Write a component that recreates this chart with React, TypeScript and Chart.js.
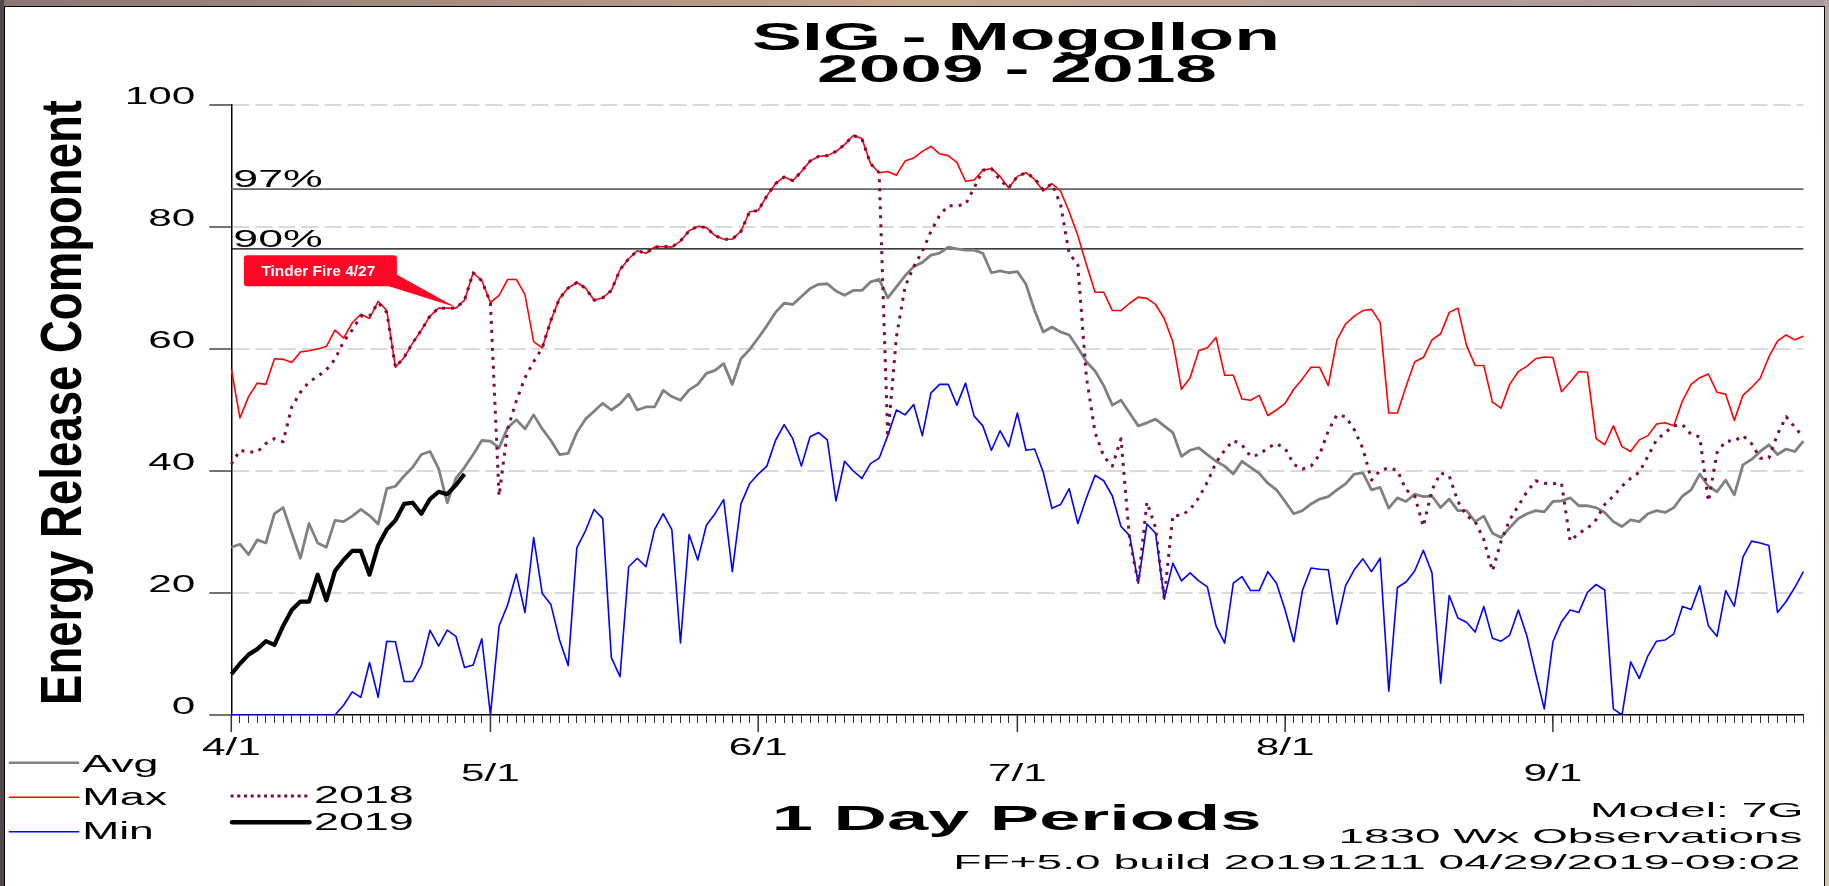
import React, { useEffect, useRef } from 'react';
import { Chart, registerables } from 'chart.js';

Chart.register(...registerables);

// ---------- data ----------
const monthNumbers = [4, 5, 6, 7, 8, 9];
const monthLengths = [30, 31, 30, 31, 31, 30];
const categories: string[] = [];
monthNumbers.forEach((m, i) => {
  for (let d = 1; d <= monthLengths[i]; d++) categories.push(`${m}/${d}`);
});
const monthTickLabels = ['4/1', '5/1', '6/1', '7/1', '8/1', '9/1'];
const yTickValues = [0, 20, 40, 60, 80, 100];

const maxValues = [
  56.7, 48.7, 52.2, 54.4, 54.2, 58.4, 58.3, 57.8, 59.5, 59.7,
  60.0, 60.4, 63.1, 61.8, 64.3, 65.7, 65.0, 67.8, 66.3, 57.0,
  58.6, 61.0, 63.1, 65.4, 66.7, 66.7, 66.7, 68.0, 72.5, 71.2,
  67.6, 68.8, 71.4, 71.4, 68.9, 61.2, 60.2, 64.7, 68.3, 70.0,
  70.9, 70.0, 68.0, 68.4, 69.6, 73.0, 74.8, 76.1, 75.7, 76.7,
  76.8, 76.7, 77.7, 79.4, 80.1, 79.9, 78.6, 78.0, 78.0, 79.3,
  82.5, 82.7, 85.1, 87.1, 88.2, 87.6, 89.1, 90.8, 91.6, 91.7,
  92.4, 93.5, 95.0, 94.5, 90.4, 88.9, 89.1, 88.5, 90.8, 91.3,
  92.4, 93.2, 92.0, 91.7, 90.6, 87.5, 87.7, 89.3, 89.6, 88.3,
  86.4, 88.3, 88.9, 87.8, 85.9, 87.1, 85.9, 82.5, 78.6, 73.8,
  69.3, 69.3, 66.3, 66.3, 67.5, 68.5, 68.3, 67.3, 65.0, 61.2,
  53.4, 55.3, 59.7, 60.2, 61.9, 55.7, 55.7, 51.8, 51.6, 52.4,
  49.1, 50.0, 51.1, 53.4, 55.1, 57.0, 57.0, 54.0, 61.5, 64.1,
  65.4, 66.3, 66.5, 64.4, 49.5, 49.5, 53.9, 57.9, 58.6, 61.5,
  62.5, 66.0, 66.7, 60.6, 57.3, 57.3, 51.3, 50.3, 54.2, 56.3,
  57.2, 58.4, 58.7, 58.6, 53.0, 54.6, 56.3, 56.2, 45.3, 44.3,
  47.4, 44.0, 43.2, 45.1, 45.8, 47.7, 47.9, 47.4, 51.5, 54.2,
  55.3, 55.9, 52.9, 52.6, 48.3, 52.4, 53.7, 55.2, 58.7, 61.3,
  62.3, 61.5, 62.1,
];

const avgValues = [
  27.5, 28.0, 26.3, 28.7, 28.2, 33.0, 34.0, 29.8, 25.7, 31.4,
  28.2, 27.5, 31.9, 31.7, 32.6, 33.7, 32.7, 31.3, 37.1, 37.5,
  39.2, 40.6, 42.7, 43.2, 40.4, 34.8, 38.8, 40.6, 42.7, 45.0,
  44.9, 43.8, 47.1, 48.4, 46.9, 49.2, 46.9, 45.0, 42.7, 42.9,
  46.3, 48.5, 49.8, 51.1, 50.0, 51.0, 52.6, 50.0, 50.5, 50.5,
  53.2, 52.2, 51.6, 53.3, 54.2, 56.0, 56.5, 57.6, 54.2, 58.4,
  59.9, 61.8, 63.8, 66.0, 67.5, 67.3, 68.6, 69.9, 70.6, 70.7,
  69.5, 68.8, 69.6, 69.6, 71.0, 71.4, 68.4, 70.2, 72.0, 73.5,
  74.2, 75.4, 75.7, 76.7, 76.4, 76.2, 76.2, 75.7, 72.5, 72.8,
  72.5, 72.7, 70.6, 66.3, 62.8, 63.6, 62.8, 62.3, 60.2, 57.9,
  56.4, 54.0, 50.8, 51.6, 49.5, 47.4, 47.9, 48.5, 47.4, 46.3,
  42.4, 43.4, 43.8, 42.7, 41.6, 40.8, 39.5, 41.6, 40.6, 39.6,
  38.0, 36.9, 35.0, 33.0, 33.5, 34.6, 35.4, 35.8, 36.9, 37.9,
  39.5, 39.7, 36.9, 37.3, 33.9, 35.6, 35.0, 36.2, 35.8, 35.9,
  34.0, 35.4, 33.5, 33.5, 31.7, 32.6, 29.8, 29.1, 30.7, 32.2,
  33.0, 33.5, 33.3, 35.0, 35.1, 35.6, 34.3, 34.3, 34.0, 33.2,
  31.7, 30.9, 32.0, 31.7, 33.0, 33.5, 33.2, 34.0, 35.9, 36.9,
  39.5, 37.5, 36.6, 38.5, 36.1, 41.0, 41.9, 43.2, 44.3, 42.7,
  43.6, 43.2, 44.9,
];

const minValues = [
  0, 0, 0, 0, 0, 0, 0, 0, 0, 0,
  0, 0, 0, 1.6, 3.8, 2.9, 8.6, 2.9, 12.1, 12.0,
  5.5, 5.5, 8.1, 13.9, 11.3, 13.9, 12.9, 7.8, 8.2, 12.5,
  0, 14.6, 18.1, 23.1, 16.8, 29.1, 19.9, 18.1, 12.3, 8.1,
  27.4, 30.2, 33.7, 32.2, 9.4, 6.3, 24.3, 25.7, 24.3, 30.4,
  33.0, 30.4, 11.8, 29.6, 25.4, 31.1, 33.0, 35.3, 23.5, 34.6,
  37.9, 39.5, 40.8, 45.0, 47.6, 45.3, 40.8, 45.6, 46.3, 45.1,
  35.1, 41.6, 40.0, 38.8, 41.2, 42.1, 45.8, 50.0, 49.2, 50.9,
  45.8, 52.8, 54.2, 54.2, 50.8, 54.4, 49.0, 47.4, 43.4, 46.6,
  44.0, 49.5, 43.4, 43.6, 39.8, 33.9, 34.5, 37.1, 31.4, 35.6,
  39.3, 38.4, 35.9, 30.9, 29.4, 21.6, 31.3, 29.8, 19.0, 24.9,
  22.0, 23.3, 22.0, 21.0, 14.6, 11.8, 21.6, 22.7, 20.4, 20.4,
  23.5, 21.6, 17.2, 12.0, 20.4, 24.1, 23.9, 23.8, 14.9, 21.2,
  23.8, 25.6, 23.5, 25.7, 3.9, 20.9, 21.8, 23.6, 27.0, 23.3,
  5.2, 19.6, 15.9, 15.2, 13.6, 17.8, 12.6, 12.1, 13.1, 17.2,
  12.9, 6.8, 1.0, 12.0, 15.3, 17.2, 16.8, 20.1, 21.4, 20.5,
  1.0, 0, 8.7, 6.0, 9.7, 12.1, 12.3, 13.3, 17.8, 17.3,
  21.2, 14.6, 12.9, 20.4, 17.8, 25.9, 28.5, 28.2, 27.8, 16.8,
  18.6, 20.9, 23.5,
];

const values2018 = [
  41.1, 43.4, 43.1, 43.1, 44.5, 45.3, 44.8, 50.5, 52.9, 54.6,
  55.5, 56.6, 58.3, 61.2, 63.1, 65.4, 65.4, 67.6, 66.0, 57.0,
  58.6, 61.0, 63.1, 65.4, 66.7, 66.7, 66.7, 68.0, 72.5, 71.2,
  67.6, 35.9, 46.9, 51.5, 55.3, 57.9, 60.2, 64.7, 68.3, 70.0,
  70.9, 70.0, 68.0, 68.4, 69.6, 73.0, 74.8, 76.1, 75.7, 76.7,
  76.8, 76.7, 77.7, 79.4, 80.1, 79.9, 78.6, 78.0, 78.0, 79.3,
  82.5, 82.7, 85.1, 87.1, 88.2, 87.6, 89.1, 90.8, 91.6, 91.7,
  92.4, 93.5, 95.0, 94.5, 90.4, 88.9, 45.5, 62.0, 70.2, 73.5,
  76.0, 79.3, 81.9, 83.5, 83.5, 83.7, 86.4, 89.3, 89.6, 87.7,
  86.4, 88.3, 88.9, 88.0, 86.1, 87.1, 83.7, 75.7, 73.8, 55.3,
  46.3, 42.4, 40.8, 45.3, 28.7, 21.7, 34.9, 30.7, 19.1, 32.7,
  32.7, 33.7, 35.6, 38.2, 41.4, 43.4, 45.0, 44.3, 42.4, 42.7,
  43.8, 44.5, 43.7, 41.1, 40.3, 40.8, 42.7, 46.6, 49.2, 48.9,
  46.8, 43.7, 38.5, 40.1, 40.5, 40.1, 36.9, 35.9, 30.9, 36.9,
  39.7, 39.2, 35.0, 32.7, 31.7, 28.8, 23.6, 28.5, 32.0, 34.3,
  36.6, 38.4, 38.0, 37.9, 38.0, 28.5, 29.8, 30.6, 32.0, 34.5,
  35.9, 37.5, 38.8, 39.8, 42.4, 45.1, 46.3, 47.4, 47.6, 46.0,
  45.6, 35.0, 43.0, 44.9, 44.9, 45.8, 44.5, 42.1, 42.1, 46.0,
  48.9, 47.2, 45.5,
];

const values2019 = [
  6.7, 8.4, 9.9, 10.8, 12.1, 11.5, 14.6, 17.2, 18.6, 18.6,
  23.0, 18.8, 23.6, 25.4, 26.9, 26.9, 23.0, 27.8, 30.4, 31.9,
  34.6, 34.8, 33.0, 35.4, 36.6, 36.2, 37.7, 39.5,
];

const pct97 = 86.2;
const pct90 = 76.4;
const fireDate = '4/27';
const fireLabel = 'Tinder Fire 4/27';

// ---------- drawing helpers ----------
const FONT = '"Liberation Sans", Arial, Helvetica, sans-serif';

function stretchText(
  ctx: CanvasRenderingContext2D,
  text: string,
  x: number,
  y: number,
  size: number,
  weight: string,
  sx: number,
  align: CanvasTextAlign,
  color: string
) {
  ctx.save();
  ctx.font = `${weight} ${size}px ${FONT}`;
  ctx.fillStyle = color;
  ctx.textBaseline = 'alphabetic';
  ctx.textAlign = align;
  ctx.translate(x, y);
  ctx.scale(sx, 1);
  ctx.fillText(text, 0, 0);
  ctx.restore();
}

const overlayPlugin = {
  id: 'ffOverlay',
  afterDatasetsDraw(chart: any) {
    const { ctx, chartArea, scales } = chart;
    const xs = scales.x;
    const ys = scales.y;

    // long month ticks
    ctx.save();
    ctx.strokeStyle = '#333';
    ctx.lineWidth = 1.5;
    monthTickLabels.forEach((lab) => {
      const px = xs.getPixelForValue(categories.indexOf(lab));
      ctx.beginPath();
      ctx.moveTo(px, chartArea.bottom);
      ctx.lineTo(px, chartArea.bottom + 17);
      ctx.stroke();
    });
    ctx.restore();

    // staggered month labels
    monthTickLabels.forEach((lab, i) => {
      const px = xs.getPixelForValue(categories.indexOf(lab));
      const py = chartArea.bottom + (i % 2 === 0 ? 39.5 : 66);
      stretchText(ctx, lab, px, py, 23.5, 'normal', 1.8, 'center', '#000');
    });

    // y tick labels
    yTickValues.forEach((v) => {
      const py = ys.getPixelForValue(v);
      stretchText(ctx, String(v), chartArea.left - 36, py - 1, 23.5, 'normal', 1.8, 'right', '#000');
    });

    // percentile labels
    stretchText(ctx, '97%', chartArea.left + 2, ys.getPixelForValue(pct97) - 1.8, 23.5, 'normal', 1.9, 'left', '#000');
    stretchText(ctx, '90%', chartArea.left + 2, ys.getPixelForValue(pct90) - 1.8, 23.5, 'normal', 1.9, 'left', '#000');

    // fire annotation anchored to the 2018 value on the fire date
    const fi = categories.indexOf(fireDate);
    const tx = xs.getPixelForValue(fi);
    const ty = ys.getPixelForValue(values2018[fi]) - 1;
    const bl = tx - 212;
    const bt = ty - 52;
    const bw = 153;
    const bh = 31;
    const red = '#fe0626';
    ctx.save();
    ctx.fillStyle = red;
    ctx.beginPath();
    ctx.moveTo(bl + bw - 8, bt + 15);
    ctx.lineTo(tx, ty);
    ctx.lineTo(bl + bw - 8, bt + bh);
    ctx.closePath();
    ctx.fill();
    ctx.beginPath();
    const r = 3;
    ctx.moveTo(bl + r, bt);
    ctx.lineTo(bl + bw - r, bt);
    ctx.quadraticCurveTo(bl + bw, bt, bl + bw, bt + r);
    ctx.lineTo(bl + bw, bt + bh - r);
    ctx.quadraticCurveTo(bl + bw, bt + bh, bl + bw - r, bt + bh);
    ctx.lineTo(bl + r, bt + bh);
    ctx.quadraticCurveTo(bl, bt + bh, bl, bt + bh - r);
    ctx.lineTo(bl, bt + r);
    ctx.quadraticCurveTo(bl, bt, bl + r, bt);
    ctx.fill();
    ctx.restore();
    stretchText(ctx, fireLabel, bl + 17.5, bt + 21, 15, 'bold', 1.03, 'left', '#fff');
  },
};

const TARGET = { left: 231.3, top: 105, right: 1803.4, bottom: 715 };

export default function App() {
  const canvasRef = useRef<HTMLCanvasElement | null>(null);

  useEffect(() => {
    const canvas = canvasRef.current;
    if (!canvas) return;
    const first = categories[0];
    const last = categories[categories.length - 1];
    const chart = new Chart(canvas, {
      type: 'line',
      data: {
        labels: categories,
        datasets: [
          {
            label: '97%',
            data: [{ x: first, y: pct97 }, { x: last, y: pct97 }] as any,
            borderColor: '#686868',
            borderWidth: 1.8,
            order: 10,
          },
          {
            label: '90%',
            data: [{ x: first, y: pct90 }, { x: last, y: pct90 }] as any,
            borderColor: '#000000',
            borderWidth: 1.2,
            order: 9,
          },
          { label: 'Min', data: minValues, borderColor: '#0000ff', borderWidth: 1.6, order: 8 },
          { label: 'Max', data: maxValues, borderColor: '#ff0000', borderWidth: 1.6, order: 7 },
          { label: 'Avg', data: avgValues, borderColor: '#808080', borderWidth: 2.8, order: 6 },
          {
            label: '2018',
            data: values2018,
            borderColor: '#7a0a48',
            borderWidth: 3,
            borderDash: [3, 6],
            order: 5,
          },
          { label: '2019', data: values2019, borderColor: '#000000', borderWidth: 4.2, order: 4 },
        ],
      },
      options: {
        responsive: false,
        animation: false,
        devicePixelRatio: 1,
        layout: { padding: { left: 209, top: 105, right: 26, bottom: 163 } },
        elements: { point: { radius: 0 }, line: { tension: 0, borderJoinStyle: 'round' } },
        plugins: {
          legend: { display: false },
          tooltip: { enabled: false },
          title: { display: false },
        },
        scales: {
          x: {
            type: 'category',
            offset: false,
            ticks: { display: false, autoSkip: false },
            grid: {
              drawOnChartArea: false,
              drawTicks: true,
              tickLength: 8,
              tickColor: '#333',
              tickWidth: 1,
            },
            border: { display: true, color: '#000', width: 1.6 },
          },
          y: {
            min: 0,
            max: 100,
            ticks: { display: false, stepSize: 20 },
            grid: {
              color: (c: any) => (c.tick && c.tick.value === 0 ? 'rgba(0,0,0,0)' : '#d9d9d9'),
              lineWidth: 2,
              drawTicks: true,
              tickColor: '#444',
              tickLength: 22,
              tickWidth: 1.5,
            },
            border: { display: true, color: '#000', width: 1.5, dash: [17, 6] },
          },
        },
      },
      plugins: [overlayPlugin],
    });

    // fine-tune padding so the plot area lands where the reference has it
    const ca = chart.chartArea;
    const pad: any = (chart.options.layout as any).padding;
    (chart.options.layout as any).padding = {
      left: pad.left + (TARGET.left - ca.left),
      top: pad.top + (TARGET.top - ca.top),
      right: pad.right + (ca.right - TARGET.right),
      bottom: pad.bottom + (ca.bottom - TARGET.bottom),
    };
    chart.update();

    return () => chart.destroy();
  }, []);

  const txt = { fontFamily: FONT, fill: '#000' } as const;

  return (
    <div
      style={{
        position: 'fixed',
        left: 0,
        top: 0,
        width: 1829,
        height: 886,
        overflow: 'hidden',
        background:
          'linear-gradient(90deg, #8c7672 0%, #a88c80 25%, #c6a68c 50%, #b89e98 75%, #a6989e 100%)',
      }}
    >
      <div style={{ position: 'absolute', left: 0, top: 0, width: 4, height: 886, background: '#54484f' }} />
      <div
        style={{
          position: 'absolute',
          left: 1824,
          top: 0,
          width: 5,
          height: 886,
          background: 'linear-gradient(180deg, #b4a4a4, #d6c49c)',
        }}
      />
      <div
        style={{
          position: 'absolute',
          left: 4,
          top: 6,
          width: 1821,
          height: 900,
          background: '#ffffff',
          border: '1px solid #000',
          boxSizing: 'border-box',
        }}
      />
      <canvas
        ref={canvasRef}
        width={1829}
        height={886}
        style={{ position: 'absolute', left: 0, top: 0, width: 1829, height: 886 }}
      />
      <svg
        width={1829}
        height={886}
        style={{ position: 'absolute', left: 0, top: 0, pointerEvents: 'none' }}
      >
        <text x={752} y={50} fontSize={38} fontWeight="bold" textLength={528} lengthAdjust="spacingAndGlyphs" style={txt}>
          SIG - Mogollon
        </text>
        <text x={817} y={82} fontSize={38} fontWeight="bold" textLength={400} lengthAdjust="spacingAndGlyphs" style={txt}>
          2009 - 2018
        </text>
        <g transform="translate(81 402.5) rotate(-90) scale(1 1.57)">
          <text x={-302.5} y={0} fontSize={36} fontWeight="bold" textLength={605} lengthAdjust="spacingAndGlyphs" style={txt}>
            Energy Release Component
          </text>
        </g>

        <line x1={8.8} y1={762.7} x2={79.2} y2={762.7} stroke="#808080" strokeWidth={2.6} />
        <line x1={8.8} y1={797.3} x2={79.2} y2={797.3} stroke="#ff0000" strokeWidth={1.6} />
        <line x1={8.8} y1={831.7} x2={79.2} y2={831.7} stroke="#0000ff" strokeWidth={1.6} />
        <text x={82.2} y={771.7} fontSize={23.5} textLength={76.3} lengthAdjust="spacingAndGlyphs" style={txt}>Avg</text>
        <text x={82.2} y={805} fontSize={23.5} textLength={85} lengthAdjust="spacingAndGlyphs" style={txt}>Max</text>
        <text x={82.2} y={839.3} fontSize={23.5} textLength={71.6} lengthAdjust="spacingAndGlyphs" style={txt}>Min</text>

        <line x1={230.6} y1={796} x2={311} y2={796} stroke="#7a0a48" strokeWidth={3} strokeDasharray="3 3.7" />
        <line x1={232} y1={822.3} x2={309.5} y2={822.3} stroke="#000" strokeWidth={4.4} strokeLinecap="round" />
        <text x={314} y={803.3} fontSize={23.5} textLength={99.7} lengthAdjust="spacingAndGlyphs" style={txt}>2018</text>
        <text x={314} y={830} fontSize={23.5} textLength={99.7} lengthAdjust="spacingAndGlyphs" style={txt}>2019</text>

        <text x={771.7} y={830} fontSize={35.5} fontWeight="bold" textLength={489.7} lengthAdjust="spacingAndGlyphs" style={txt}>
          1 Day Periods
        </text>
        <text x={1590} y={816.7} fontSize={21} textLength={213.4} lengthAdjust="spacingAndGlyphs" style={txt}>
          Model: 7G
        </text>
        <text x={1338.4} y={843.3} fontSize={21} textLength={464} lengthAdjust="spacingAndGlyphs" style={txt}>
          1830 Wx Observations
        </text>
        <text x={953.3} y={869} fontSize={20.5} textLength={847} lengthAdjust="spacingAndGlyphs" style={txt}>
          FF+5.0 build 20191211 04/29/2019-09:02
        </text>
      </svg>
    </div>
  );
}
